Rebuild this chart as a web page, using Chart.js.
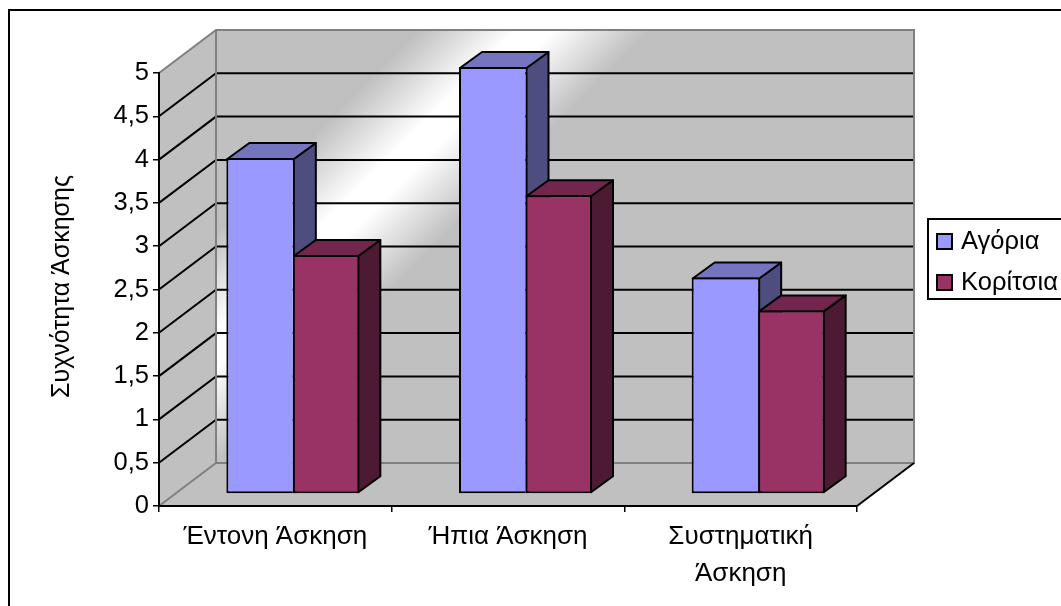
<!DOCTYPE html>
<html>
<head>
<meta charset="utf-8">
<style>
  html, body { margin: 0; padding: 0; background: #fff; }
  canvas { display: block; }
</style>
<script src="https://cdn.jsdelivr.net/npm/chart.js@4"></script>
</head>
<body>
<canvas id="chart" width="1061" height="606"></canvas>
<script>
const categories = ['Έντονη Άσκηση', 'Ήπια Άσκηση', ['Συστηματική', 'Άσκηση']];
const boys = [3.88, 4.93, 2.5];
const girls = [2.76, 3.45, 2.12];
const yTicks = ['0', '0,5', '1', '1,5', '2', '2,5', '3', '3,5', '4', '4,5', '5'];
const seriesNames = ['Αγόρια', 'Κορίτσια'];
const yTitle = 'Συχνότητα Άσκησης';

const fontFamily = '"Liberation Sans", Arial, sans-serif';
const fontSize = 25.5;
const wallDepth = { x: 57, y: -43 };
const barOffset = { x: 17.5, y: -12 };
const barDepth = { x: 22, y: -16 };
const grey = '#c0c0c0';
const edgeGrey = '#808080';

const poly = (ctx, pts, fill, stroke, width = 2) => {
    ctx.beginPath();
    pts.forEach((p, i) => (i ? ctx.lineTo(p[0], p[1]) : ctx.moveTo(p[0], p[1])));
    ctx.closePath();
    if (fill) {
        ctx.fillStyle = fill;
        ctx.fill();
    }
    if (stroke) {
        ctx.strokeStyle = stroke;
        ctx.lineWidth = width;
        ctx.lineJoin = 'round';
        ctx.stroke();
    }
};

const line = (ctx, pts, color, width = 2) => {
    ctx.beginPath();
    pts.forEach((p, i) => (i ? ctx.lineTo(p[0], p[1]) : ctx.moveTo(p[0], p[1])));
    ctx.strokeStyle = color;
    ctx.lineWidth = width;
    ctx.stroke();
};

// walls, floor and the wrapped gridlines behind the bars
const wallsPlugin = {
    id: 'walls',
    beforeDraw(chart) {
        const { ctx, chartArea: a, scales: { y } } = chart;
        const dx = wallDepth.x, dy = wallDepth.y;
        const y0 = y.getPixelForValue(0), yMax = y.getPixelForValue(5);
        ctx.save();

        // outer frame, only top and left are in the picture
        line(ctx, [[9, 606], [9, 10], [1061, 10]], '#000', 2);

        const band = ctx.createLinearGradient(472.5, -22.5, 587.5, 92.5);
        band.addColorStop(0, grey);
        band.addColorStop(0.42, '#ffffff');
        band.addColorStop(0.58, '#ffffff');
        band.addColorStop(1, grey);
        poly(ctx, [[a.left + dx, yMax + dy], [a.right + dx, yMax + dy], [a.right + dx, y0 + dy], [a.left + dx, y0 + dy]], band);

        poly(ctx, [[a.left, yMax], [a.left + dx, yMax + dy], [a.left + dx, y0 + dy], [a.left, y0]], grey);
        poly(ctx, [[a.left, y0], [a.left + dx, y0 + dy], [a.right + dx, y0 + dy], [a.right, y0]], grey);

        y.ticks.forEach(t => {
            if (t.value === 0 || t.value === 5) return;
            const py = y.getPixelForValue(t.value);
            line(ctx, [[a.left, py], [a.left + dx, py + dy], [a.right + dx, py + dy]], '#000', 2);
        });

        line(ctx, [[a.left, yMax], [a.left + dx, yMax + dy], [a.right + dx, yMax + dy], [a.right + dx, y0 + dy], [a.left + dx, y0 + dy], [a.left, y0]], edgeGrey, 2);
        line(ctx, [[a.left + dx, yMax + dy], [a.left + dx, y0 + dy]], edgeGrey, 2);
        line(ctx, [[a.right + dx, y0 + dy], [a.right, y0]], '#000', 2);
        ctx.restore();
    }
};

// side and top faces go first, left series under right series,
// the front face is the library's own bar shifted onto the floor
const barsPlugin = {
    id: 'bars3d',
    beforeDatasetsDraw(chart) {
        const { ctx } = chart;
        ctx.save();
        ctx.translate(barOffset.x, barOffset.y);
        chart.data.datasets.forEach((ds, i) => {
            chart.getDatasetMeta(i).data.forEach(bar => {
                const { x, y, base, width } = bar.getProps(['x', 'y', 'base', 'width'], true);
                // library borders sit inside the bar, so line up on their centres
                const l = x - width / 2 + 1, r = x + width / 2 + (i ? -1 : 1);
                const t = y + 1, b = base - 1;
                const ex = barDepth.x, ey = barDepth.y;
                poly(ctx, [[r, t], [r + ex, t + ey], [r + ex, b + ey], [r, b]], ds.sideColor, '#000');
                poly(ctx, [[l, t], [l + ex, t + ey], [r + ex, t + ey], [r, t]], ds.topColor, '#000');
            });
        });
        ctx.restore();
    },
    beforeDatasetDraw(chart) {
        chart.ctx.save();
        chart.ctx.translate(barOffset.x, barOffset.y);
    },
    afterDatasetDraw(chart) {
        chart.ctx.restore();
    }
};

// boxed legend and the axis title, placed as in the picture
const labelsPlugin = {
    id: 'boxLegend',
    afterDraw(chart) {
        const { ctx } = chart;
        ctx.save();
        ctx.strokeStyle = '#000';
        ctx.lineWidth = 2;
        ctx.strokeRect(928, 219, 140, 80);
        ctx.font = fontSize + 'px ' + fontFamily;
        ctx.textBaseline = 'middle';
        chart.data.datasets.forEach((ds, i) => {
            const top = 234 + i * 41;
            ctx.fillStyle = ds.backgroundColor;
            ctx.fillRect(937, top, 15, 15);
            ctx.lineWidth = 2;
            ctx.strokeRect(937, top, 15, 15);
            ctx.fillStyle = '#000';
            ctx.fillText(ds.label, 961, top + 8);
        });
        ctx.translate(62, 286.5);
        ctx.rotate(-Math.PI / 2);
        ctx.textAlign = 'center';
        ctx.font = '25px ' + fontFamily;
        ctx.fillText(yTitle, 0, 0);
        ctx.restore();
    }
};

new Chart(document.getElementById('chart'), {
    type: 'bar',
    data: {
        labels: categories,
        datasets: [
            {
                label: seriesNames[0],
                data: boys,
                backgroundColor: '#9999ff',
                sideColor: '#4d4d80',
                topColor: '#7575bf',
                borderColor: '#000',
                borderWidth: { left: 2, top: 2, bottom: 2, right: 0 },
                borderSkipped: false,
                clip: false,
            },
            {
                label: seriesNames[1],
                data: girls,
                backgroundColor: '#993366',
                sideColor: '#4d1a33',
                topColor: '#73264d',
                borderColor: '#000',
                borderWidth: 2,
                borderSkipped: false,
                clip: false,
            },
        ]
    },
    options: {
        responsive: false,
        animation: false,
        devicePixelRatio: 1,
        layout: { padding: { left: 0, right: 204, top: 73, bottom: 0 } },
        categoryPercentage: 0.5716,
        barPercentage: 1,
        plugins: {
            legend: { display: false },
            tooltip: { enabled: false },
        },
        scales: {
            x: {
                grid: { drawOnChartArea: false, color: '#000', lineWidth: 1.5, tickLength: 6 },
                border: { color: '#000', width: 2 },
                ticks: {
                    color: '#000',
                    font: { family: fontFamily, size: 26, lineHeight: 1.42 },
                    maxRotation: 0,
                    autoSkip: false,
                    padding: 6,
                },
                afterFit: scale => { scale.height = 100; },
            },
            y: {
                min: 0,
                max: 5,
                grid: { drawOnChartArea: false, color: '#000', lineWidth: 1.5, tickLength: 6 },
                border: { color: '#000', width: 2 },
                ticks: {
                    stepSize: 0.5,
                    color: '#000',
                    font: { family: fontFamily, size: fontSize },
                    padding: 4,
                    callback: (value, i) => yTicks[i],
                },
                afterFit: scale => { scale.width = 159; },
            },
        }
    },
    plugins: [wallsPlugin, barsPlugin, labelsPlugin]
});
</script>
</body>
</html>
